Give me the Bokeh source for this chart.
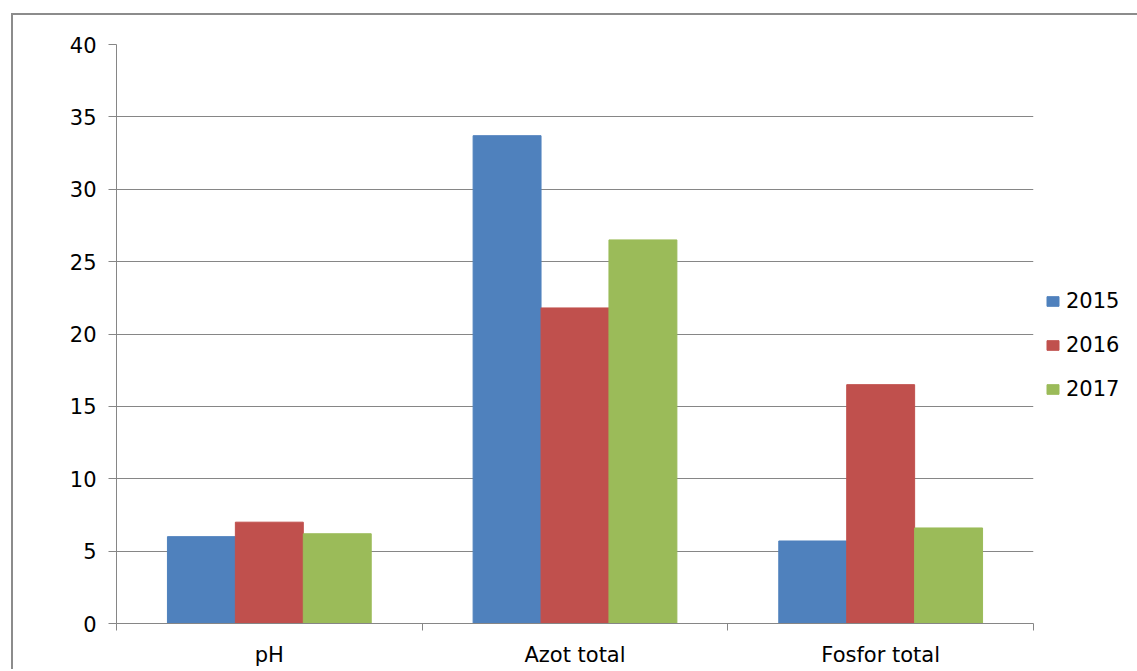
from bokeh.plotting import figure
from bokeh.models import FixedTicker, Legend, LegendItem, Range1d
from bokeh.embed import file_html
from bokeh.resources import INLINE

categories = ["pH", "Azot total", "Fosfor total"]
years = ["2015", "2016", "2017"]
values_2015 = [6.0, 33.7, 5.7]
values_2016 = [7.0, 21.8, 16.5]
values_2017 = [6.2, 26.5, 6.6]
colors = ["#4F81BD", "#C0504D", "#9BBB59"]
y_ticks = [0, 5, 10, 15, 20, 25, 30, 35, 40]

series = [values_2015, values_2016, values_2017]
bar_w = 1 / 4.5  # three bars plus a gap of 1.5 bar widths per category

FONT = "DejaVu Sans"
FSIZE = "21px"
GRAY = "#868686"

p = figure(frame_width=917, frame_height=579, output_backend="svg", toolbar_location=None,
           x_range=Range1d(0, 3), y_range=Range1d(0, 40),
           min_border_left=103, min_border_right=0,
           min_border_top=29, min_border_bottom=40)
p.styles = {"margin-left": "11px", "margin-top": "13px",
            "border-left": "2px solid #8c8c8c", "border-top": "2px solid #8c8c8c"}
p.outline_line_color = None
p.background_fill_color = "white"

items = []
for i, (vals, year, col) in enumerate(zip(series, years, colors)):
    xs = [c + 0.5 + (i - 1) * bar_w for c in range(len(categories))]
    r = p.vbar(x=xs, top=vals, width=bar_w, bottom=0, fill_color=col,
               line_color=col, line_width=1)
    items.append(LegendItem(label=year, renderers=[r]))

# y axis
p.yaxis.ticker = FixedTicker(ticks=y_ticks)
p.yaxis.axis_line_color = GRAY
p.yaxis.major_tick_line_color = GRAY
p.yaxis.major_tick_out = 8
p.yaxis.major_tick_in = 0
p.yaxis.minor_tick_line_color = None
p.yaxis.major_label_standoff = 12
p.yaxis.major_label_text_font = FONT
p.yaxis.major_label_text_font_size = FSIZE
p.yaxis.major_label_text_color = "#000000"

# x axis: labels at category centres, ticks at category boundaries
p.xaxis.ticker = FixedTicker(ticks=[0.5, 1.5, 2.5], minor_ticks=[0, 1, 2, 3])
p.xaxis.major_label_overrides = {0.5: categories[0], 1.5: categories[1], 2.5: categories[2]}
p.xaxis.axis_line_color = GRAY
p.xaxis.major_tick_line_color = None
p.xaxis.minor_tick_line_color = GRAY
p.xaxis.minor_tick_out = 7
p.xaxis.minor_tick_in = 0
p.xaxis.major_label_standoff = 12
p.xaxis.major_label_text_font = FONT
p.xaxis.major_label_text_font_size = FSIZE
p.xaxis.major_label_text_color = "#000000"

p.xgrid.grid_line_color = None
p.ygrid.grid_line_color = GRAY
p.ygrid.grid_line_width = 1

legend = Legend(items=items, location=(12, 222), orientation="vertical",
                border_line_color=None, background_fill_alpha=0,
                padding=0, margin=0, spacing=20,
                glyph_width=15, glyph_height=12, label_height=20,
                label_standoff=6,
                label_text_font=FONT, label_text_font_size=FSIZE,
                label_text_color="#000000")
p.add_layout(legend, "right")

open("out.html", "w").write(file_html(p, INLINE))
